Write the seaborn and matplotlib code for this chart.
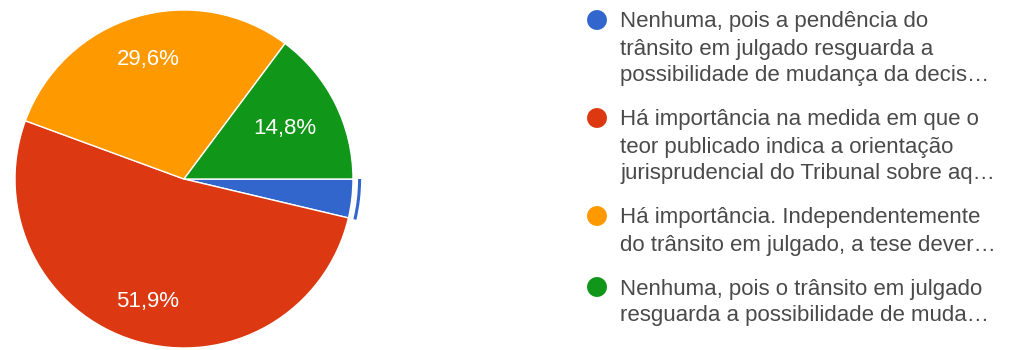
import matplotlib
matplotlib.use("Agg")
import matplotlib.pyplot as plt
from matplotlib.patches import Wedge
import seaborn as sns
import numpy as np

# Survey answers (legend text, wrapped and truncated as shown in the form summary)
answer_lines = [
    ["Nenhuma, pois a pendência do",
     "trânsito em julgado resguarda a",
     "possibilidade de mudança da decis…"],
    ["Há importância na medida em que o",
     "teor publicado indica a orientação",
     "jurisprudencial do Tribunal sobre aq…"],
    ["Há importância. Independentemente",
     "do trânsito em julgado, a tese dever…"],
    ["Nenhuma, pois o trânsito em julgado",
     "resguarda a possibilidade de muda…"],
]
shares = [3.7, 51.9, 29.6, 14.8]
colors = ["#3366CC", "#DC3912", "#FF9900", "#109618"]

sns.set_theme(style="white")
plt.rcParams["font.family"] = ["Liberation Sans", "DejaVu Sans"]

W, H, DPI = 1010, 350, 100
fig = plt.figure(figsize=(W / DPI, H / DPI), dpi=DPI)
fig.patch.set_facecolor("white")

# Pie axes: 169 px radius, centred at (184, 179) px from the top-left
R_PX = 169.0
L = 1.15
side = 2 * L * R_PX
cx, cy = 184.0, H - 179.0
ax = fig.add_axes([(cx - side / 2) / W, (cy - side / 2) / H, side / W, side / H])


def pct_label(p):
    return f"{p:.1f}%".replace(".", ",") if p > 5 else ""


wedges, _, autotexts = ax.pie(
    shares,
    colors=colors,
    startangle=0,
    counterclock=False,
    autopct=pct_label,
    pctdistance=0.74,
    wedgeprops=dict(edgecolor="white", linewidth=1.0),
    textprops=dict(color="white", fontsize=16),
)

# nudge label radii the way the form chart places them
label_radius = [0.0, 0.755, 0.735, 0.67]
for w, t, r in zip(wedges, autotexts, label_radius):
    mid = np.deg2rad((w.theta1 + w.theta2) / 2)
    t.set_position((r * np.cos(mid), r * np.sin(mid)))

# highlight arc outside the selected (first) slice
hw = wedges[0]
ax.add_patch(Wedge((0, 0), 1.048, hw.theta1, hw.theta2, width=0.018,
                   facecolor=colors[0], edgecolor="none"))

ax.set_xlim(-L, L)
ax.set_ylim(-L, L)
ax.set_aspect("equal", adjustable="box")
ax.axis("off")

# Legend drawn in pixel coordinates
lg = fig.add_axes([0, 0, 1, 1])
lg.set_xlim(0, W)
lg.set_ylim(H, 0)
lg.axis("off")

line_h = 27.0
group_gap = 17.0
baseline = 27.5
for lines, col in zip(answer_lines, colors):
    lg.scatter([597], [baseline - 7.5], s=205, color=col, edgecolors="none")
    for i, txt in enumerate(lines):
        lg.text(620, baseline + i * line_h, txt, fontsize=16, color="#4a4a4a",
                va="baseline", ha="left")
    baseline += len(lines) * line_h + group_gap

fig.savefig("out.png", dpi=DPI, facecolor="white")
